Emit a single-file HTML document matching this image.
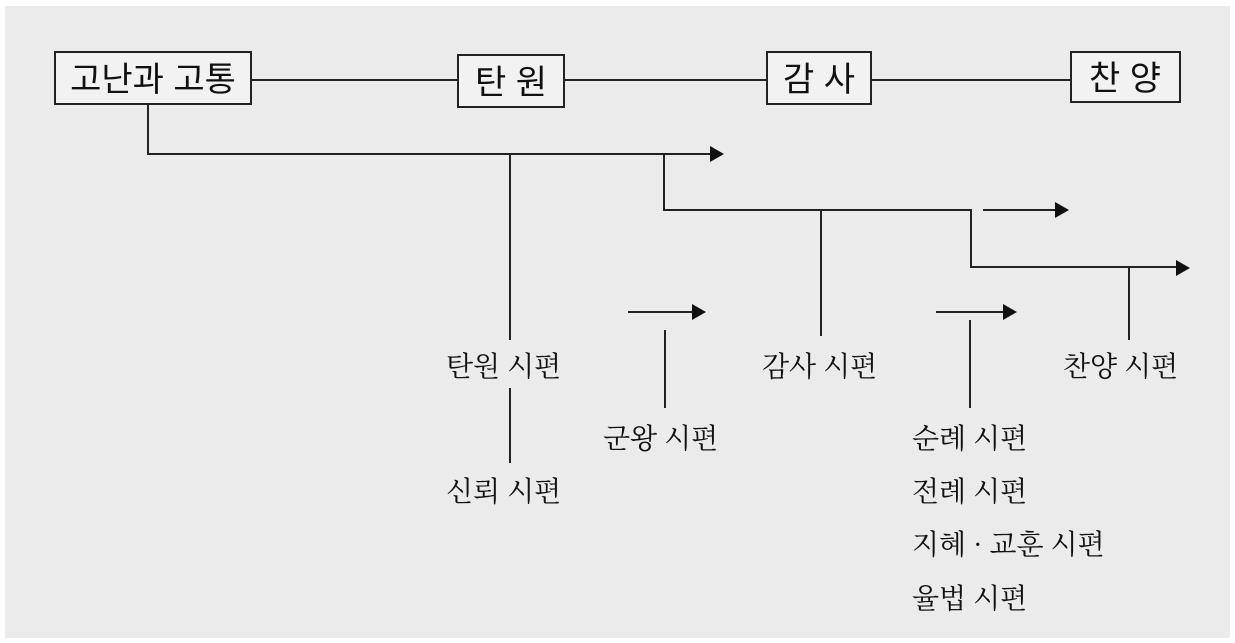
<!DOCTYPE html>
<html><head><meta charset="utf-8"><style>
html,body{margin:0;padding:0;background:#fff;}
svg{display:block;}
.s{font-family:"Liberation Sans","Noto Sans CJK KR",sans-serif;font-size:34px;fill:#111;}
.t{font-family:"Liberation Serif","Noto Serif CJK SC","Noto Sans CJK KR",serif;font-size:28px;fill:#111;}
</style></head><body>
<svg width="1235" height="643" viewBox="0 0 1235 643" xmlns="http://www.w3.org/2000/svg">
<rect x="5" y="6" width="1225" height="632" fill="#ebebeb"/>
<g stroke="#222" stroke-width="2" fill="none">
<line x1="251" y1="80" x2="458" y2="80"/>
<line x1="564" y1="80" x2="767" y2="80"/>
<line x1="871" y1="80" x2="1071" y2="80"/>
<rect x="55" y="52" width="196" height="52" fill="#f2f2f2"/>
<rect x="458" y="55" width="106" height="52" fill="#f2f2f2"/>
<rect x="767" y="52" width="104" height="52" fill="#f2f2f2"/>
<rect x="1071" y="52" width="109" height="50" fill="#f2f2f2"/>
<polyline points="148,104 148,154 712,154"/>
<line x1="510" y1="154" x2="510" y2="340"/>
<line x1="510" y1="388" x2="510" y2="463"/>
<polyline points="664,154 664,210 971,210 971,267 1177,267"/>
<line x1="821" y1="210" x2="821" y2="336"/>
<line x1="1129" y1="267" x2="1129" y2="340"/>
<line x1="983" y1="210" x2="1058" y2="210"/>
<line x1="628" y1="312" x2="694" y2="312"/>
<line x1="936" y1="312" x2="1005" y2="312"/>
<line x1="665" y1="330" x2="665" y2="408"/>
<line x1="970" y1="320" x2="970" y2="408"/>
</g>
<g fill="#111">
<polygon points="724,154 710,146 710,162"/>
<polygon points="1069,210 1055,202 1055,218"/>
<polygon points="1190,268 1176,260 1176,276"/>
<polygon points="706,312 692,304 692,320"/>
<polygon points="1017,312 1003,304 1003,320"/>
</g>
<text class="s" x="153" y="91" text-anchor="middle">고난과 고통</text>
<text class="s" x="511" y="94" text-anchor="middle">탄 원</text>
<text class="s" x="819" y="91" text-anchor="middle">감 사</text>
<text class="s" x="1125" y="90" text-anchor="middle">찬 양</text>
<text class="t" x="446" y="376">탄원 시편</text>
<text class="t" x="446" y="501">신뢰 시편</text>
<text class="t" x="603" y="448">군왕 시편</text>
<text class="t" x="762" y="376">감사 시편</text>
<text class="t" x="1063" y="376">찬양 시편</text>
<text class="t" x="912" y="448">순례 시편</text>
<text class="t" x="912" y="501">전례 시편</text>
<text class="t" x="912" y="554">지혜 · 교훈 시편</text>
<text class="t" x="912" y="608">율법 시편</text>
</svg>
</body></html>
